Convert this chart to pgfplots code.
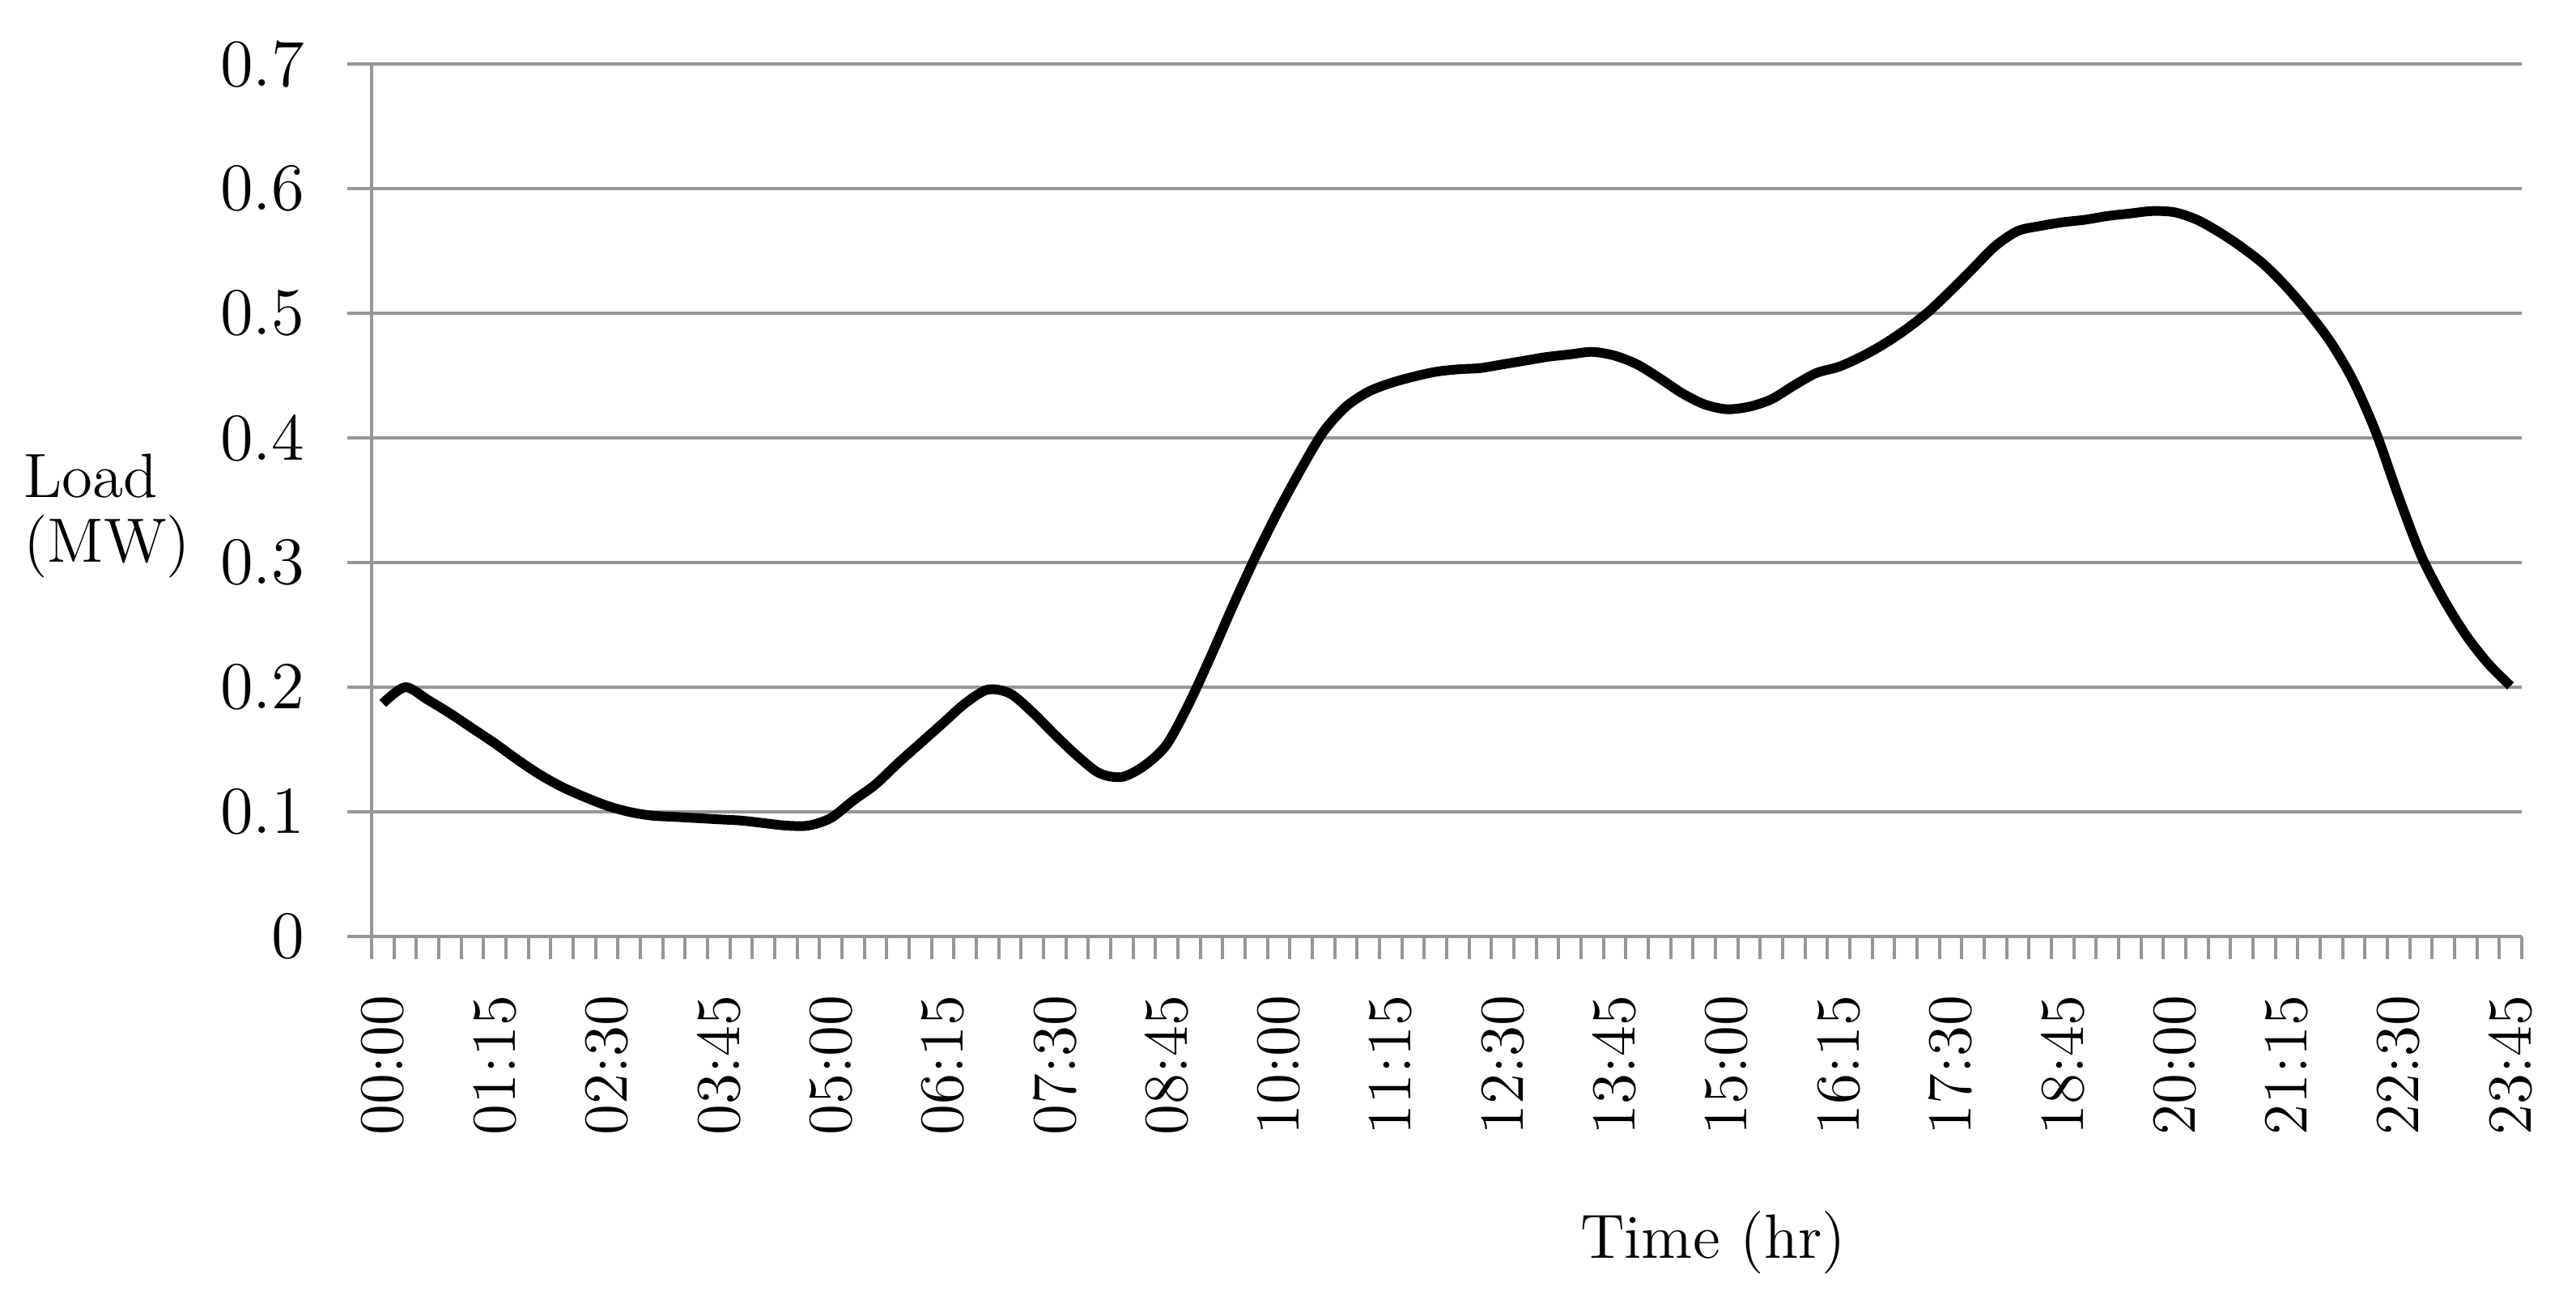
\documentclass[border=0pt]{standalone}
\usepackage{pgfplots}
\usepackage{pgfplotstable}
\pgfplotsset{compat=1.18}
\definecolor{gridgray}{RGB}{150,150,150}
\pgfplotstableread{
k v
0 0.187
1 0.200
2 0.190
3 0.179
4 0.167
5 0.155
6 0.142
7 0.130
8 0.120
9 0.112
10 0.105
11 0.100
12 0.097
13 0.096
14 0.095
15 0.094
16 0.093
17 0.091
18 0.089
19 0.089
20 0.095
21 0.109
22 0.122
23 0.139
24 0.155
25 0.171
26 0.187
27 0.198
28 0.195
29 0.180
30 0.162
31 0.145
32 0.131
33 0.128
34 0.137
35 0.154
36 0.187
37 0.226
38 0.267
39 0.306
40 0.342
41 0.375
42 0.405
43 0.425
44 0.437
45 0.444
46 0.449
47 0.453
48 0.455
49 0.456
50 0.459
51 0.462
52 0.465
53 0.467
54 0.469
55 0.466
56 0.459
57 0.448
58 0.436
59 0.427
60 0.423
61 0.425
62 0.431
63 0.442
64 0.452
65 0.457
66 0.465
67 0.475
68 0.487
69 0.501
70 0.518
71 0.536
72 0.554
73 0.566
74 0.570
75 0.573
76 0.575
77 0.578
78 0.580
79 0.582
80 0.581
81 0.575
82 0.565
83 0.553
84 0.539
85 0.521
86 0.500
87 0.476
88 0.445
89 0.404
90 0.353
91 0.306
92 0.271
93 0.242
94 0.219
95 0.201
}\loaddata
\begin{document}
\begin{tikzpicture}
\begin{axis}[
  at={(0,0)}, anchor=south west,
  scale only axis, width=132.8mm, height=53.9mm,
  xmin=-0.5, xmax=95.5, ymin=0, ymax=0.7,
  axis x line*=bottom, axis y line*=left,
  axis line style={gridgray, line width=0.6pt},
  ytick={0,0.1,0.2,0.3,0.4,0.5,0.6,0.7},
  yticklabels={0,0.1,0.2,0.3,0.4,0.5,0.6,0.7},
  ymajorgrids, grid style={gridgray, line width=0.6pt},
  xtick={0,5,...,95},
  xticklabels={00:00,01:15,02:30,03:45,05:00,06:15,07:30,08:45,10:00,11:15,12:30,13:45,15:00,16:15,17:30,18:45,20:00,21:15,22:30,23:45},
  minor xtick={-0.5,0.5,...,95.5},
  tick align=outside,
  major tick length=1.5mm, minor tick length=1.4mm,
  tick style={gridgray, line width=0.6pt},
  major x tick style={draw=none},
  /pgf/number format/assume math mode=true,
  xticklabel style={rotate=90, anchor=east, font=\fontsize{11}{13}\selectfont},
  yticklabel style={font=\fontsize{11.8}{13}\selectfont},
  xticklabel shift=0.9mm,
  yticklabel shift=1.4mm,
  ylabel={Load\\(MW)},
  ylabel style={rotate=-90, align=left, at={(axis description cs:-0.123,0.482)}, anchor=center, font=\fontsize{11}{11.5}\selectfont},
  xlabel={Time (hr)},
  xlabel style={at={(axis description cs:0.624,-0.351)}, anchor=center, font=\fontsize{11}{13}\selectfont},
]
\addplot[black, line width=1.7pt, smooth] table[x=k, y=v] {\loaddata};
\end{axis}
\pgfresetboundingbox
\path[use as bounding box] (-22.95mm,-22.9mm) rectangle (136.15mm,57.85mm);
\end{tikzpicture}
\end{document}
